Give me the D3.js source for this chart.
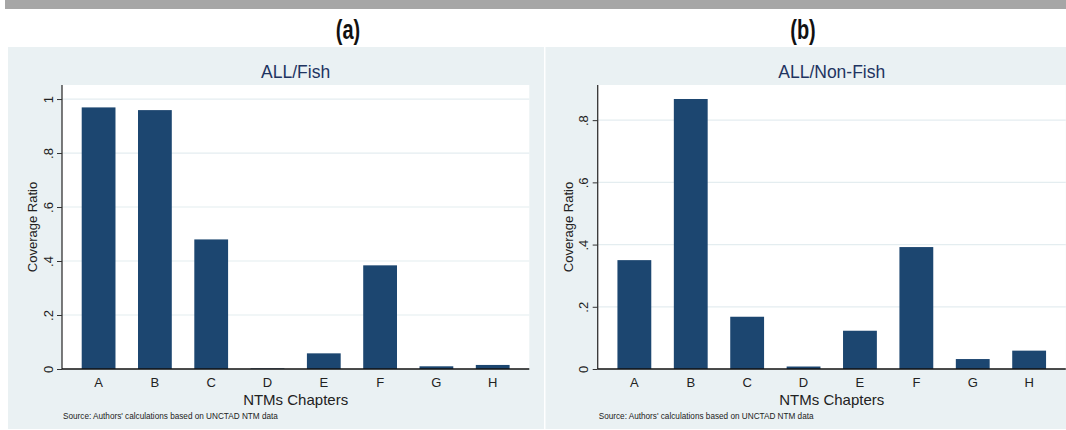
<!DOCTYPE html>
<html>
<head>
<meta charset="utf-8">
<script src="https://cdn.jsdelivr.net/npm/d3@7"></script>
<style>
  body { margin: 0; background: #fff; }
  svg { display: block; font-family: "Liberation Sans", Arial, sans-serif; }
</style>
</head>
<body>
<svg id="chart" width="1066" height="430"></svg>
<script>
// values
var chapters = ["A", "B", "C", "D", "E", "F", "G", "H"];
var fishValues = [0.969, 0.959, 0.480, 0.002, 0.058, 0.384, 0.010, 0.015];
var nonFishValues = [0.350, 0.868, 0.168, 0.008, 0.123, 0.392, 0.032, 0.059];
var fishTicks = [0, 0.2, 0.4, 0.6, 0.8, 1];
var nonFishTicks = [0, 0.2, 0.4, 0.6, 0.8];
var panelLetters = ["(a)", "(b)"];
var panelTitles = ["ALL/Fish", "ALL/Non-Fish"];
var sourceNote = "Source: Authors' calculations based on UNCTAD NTM data";

var svg = d3.select("#chart");

var navy = "#1c4670",
    bg = "#eaf1f3",
    grid = "#e4edf0";

// grey strip across the top (cut off figure heading)
svg.append("rect")
    .attr("x", 5).attr("y", 0)
    .attr("width", 1061).attr("height", 9)
    .attr("fill", "#a6a6a6");

var panels = [
    { left: 8, right: 544, plotL: 62, plotR: 529.3, yMax: 1.052, letterX: 348,
      values: fishValues, ticks: fishTicks },
    { left: 545.5, right: 1066, plotL: 597.7, plotR: 1065.8, yMax: 0.913, letterX: 803,
      values: nonFishValues, ticks: nonFishTicks }
];

var plotTop = 85, plotBottom = 369;

// stata style labels: 0, .2, .4 ... 1
var fmt = function (d) {
    var s = d3.format(".1f")(d);
    if (s.slice(-2) == ".0") s = s.slice(0, -2);
    return s.replace(/^0\./, ".");
};

panels.forEach(function (p, i) {
    var g = svg.append("g");

    // panel letter above, narrow font
    svg.append("text")
        .attr("transform", "translate(" + p.letterX + ",39) scale(0.74,1)")
        .attr("text-anchor", "middle")
        .style("font-size", "27px")
        .style("font-weight", "bold")
        .attr("fill", "#111")
        .text(panelLetters[i]);

    g.append("rect")
        .attr("x", p.left).attr("y", 47)
        .attr("width", p.right - p.left).attr("height", 382)
        .attr("fill", bg);

    g.append("rect")
        .attr("x", p.plotL).attr("y", plotTop)
        .attr("width", p.plotR - p.plotL).attr("height", plotBottom - plotTop)
        .attr("fill", "#fff");

    var x = d3.scaleBand()
        .domain(chapters)
        .range([p.plotL, p.plotR])
        .paddingInner(0.4)
        .paddingOuter(0.35);

    var y = d3.scaleLinear()
        .domain([0, p.yMax])
        .range([plotBottom, plotTop]);

    // gridlines
    g.append("g")
        .selectAll("line")
        .data(p.ticks.filter(function (d) { return d > 0; }))
        .enter()
        .append("line")
        .attr("x1", p.plotL).attr("x2", p.plotR)
        .attr("y1", function (d) { return y(d); })
        .attr("y2", function (d) { return y(d); })
        .attr("stroke", grid)
        .attr("stroke-width", 1.2);

    // bars
    g.append("g")
        .selectAll("rect")
        .data(p.values)
        .enter()
        .append("rect")
        .attr("x", function (d, j) { return x(chapters[j]); })
        .attr("width", x.bandwidth())
        .attr("y", function (d) { return y(d); })
        .attr("height", function (d) { return plotBottom - y(d); })
        .attr("fill", navy);

    // y axis
    var yAxis = g.append("g")
        .attr("transform", "translate(" + p.plotL + ",0)")
        .call(d3.axisLeft(y).tickValues(p.ticks).tickFormat(fmt).tickSize(5));
    yAxis.select(".domain")
        .attr("d", "M0," + plotTop + "V" + plotBottom)
        .attr("stroke", "#333").attr("stroke-width", 1.3);
    yAxis.selectAll(".tick line").attr("stroke", "#333");
    yAxis.selectAll(".tick text")
        .attr("transform", "translate(-14,0) rotate(-90)")
        .attr("x", 0).attr("y", 0).attr("dy", "0.36em")
        .attr("text-anchor", "middle")
        .style("font-size", "13px")
        .attr("fill", "#222");

    // x axis
    var xAxis = g.append("g")
        .attr("transform", "translate(0," + plotBottom + ")")
        .call(d3.axisBottom(x).tickSize(0).tickPadding(9));
    xAxis.select(".domain")
        .attr("d", "M" + p.plotL + ",0H" + p.plotR)
        .attr("stroke", "#111").attr("stroke-width", 1.5);
    xAxis.selectAll(".tick text")
        .style("font-size", "13px")
        .attr("fill", "#222");

    // titles
    g.append("text")
        .attr("x", (p.plotL + p.plotR) / 2)
        .attr("y", 78)
        .attr("text-anchor", "middle")
        .style("font-size", "17.5px")
        .attr("fill", "#1e3461")
        .text(panelTitles[i]);

    g.append("text")
        .attr("transform", "translate(" + (p.plotL - 25) + "," + ((plotTop + plotBottom) / 2) + ") rotate(-90)")
        .attr("text-anchor", "middle")
        .style("font-size", "13px")
        .attr("fill", "#222")
        .text("Coverage Ratio");

    g.append("text")
        .attr("x", (p.plotL + p.plotR) / 2)
        .attr("y", 405)
        .attr("text-anchor", "middle")
        .style("font-size", "15px")
        .attr("fill", "#222")
        .text("NTMs Chapters");

    g.append("text")
        .attr("x", p.plotL + 1)
        .attr("y", 419)
        .style("font-size", "8.2px")
        .attr("fill", "#222")
        .text(sourceNote);
});
</script>
</body>
</html>
